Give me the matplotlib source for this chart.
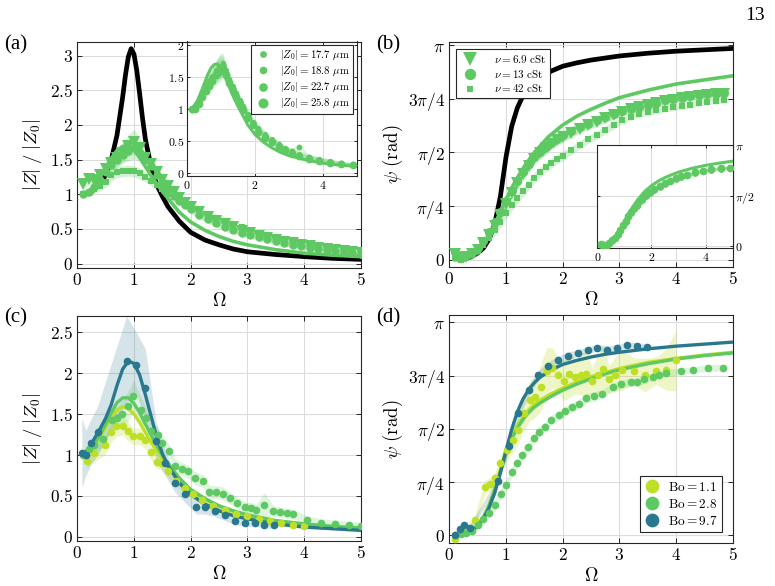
import matplotlib

matplotlib.use("Agg")
import matplotlib.pyplot as plt
import numpy as np

plt.rcParams["mathtext.fontset"] = "cm"
plt.rcParams["font.family"] = "serif"
plt.rcParams["font.serif"] = ["DejaVu Serif"]

YELLOW = "#bddf26"
GREEN = "#5ec962"
TEAL = "#2a788e"
AXC = "#262626"

# ---------------- panel (a): |Z|/|Z0|, three viscosities ----------------
OMEGA_A = [0.1, 0.2, 0.3, 0.4, 0.5, 0.6, 0.7, 0.8, 0.9, 1.0,
           1.1, 1.2, 1.3, 1.4, 1.5, 1.6, 1.7, 1.8, 1.9, 2.0,
           2.15, 2.3, 2.45, 2.6, 2.75, 2.9, 3.05, 3.2, 3.35, 3.5,
           3.65, 3.8, 3.95, 4.1, 4.25, 4.4, 4.55, 4.7, 4.85, 5.0]
A_TRI = [1.15, 1.22, 1.2, 1.27, 1.36, 1.45, 1.52, 1.6, 1.7, 1.76,
         1.66, 1.52, 1.43, 1.32, 1.21, 1.12, 1.03, 0.95, 0.88, 0.82,
         0.74, 0.67, 0.62, 0.57, 0.52, 0.47, 0.44, 0.4, 0.37, 0.34,
         0.31, 0.29, 0.27, 0.25, 0.23, 0.21, 0.19, 0.18, 0.16, 0.15]
A_TRI_ERR = [0.08, 0.08, 0.08, 0.09, 0.1, 0.11, 0.12, 0.14, 0.16, 0.18,
             0.15, 0.12, 0.1, 0.09, 0.08, 0.08, 0.08, 0.07, 0.07, 0.07,
             0.07, 0.07, 0.07, 0.06, 0.06, 0.06, 0.06, 0.06, 0.05, 0.05,
             0.05, 0.05, 0.05, 0.05, 0.04, 0.04, 0.04, 0.04, 0.04, 0.04]
A_CIR = [1.0, 1.03, 1.1, 1.2, 1.32, 1.42, 1.5, 1.56, 1.62, 1.66,
         1.6, 1.5, 1.4, 1.28, 1.17, 1.07, 0.98, 0.9, 0.84, 0.78,
         0.7, 0.64, 0.58, 0.53, 0.48, 0.44, 0.41, 0.38, 0.35, 0.32,
         0.29, 0.27, 0.25, 0.23, 0.21, 0.19, 0.18, 0.17, 0.15, 0.14]
A_CIR_ERR = [0.05, 0.06, 0.07, 0.08, 0.1, 0.1, 0.12, 0.12, 0.14, 0.15,
             0.12, 0.1, 0.09, 0.08, 0.08, 0.07, 0.07, 0.07, 0.06, 0.06,
             0.06, 0.06, 0.06, 0.06, 0.05, 0.05, 0.05, 0.05, 0.05, 0.05,
             0.04, 0.04, 0.04, 0.04, 0.04, 0.04, 0.04, 0.03, 0.03, 0.03]
A_SQR = [1.0, 1.02, 1.07, 1.12, 1.18, 1.27, 1.32, 1.33, 1.34, 1.33,
         1.3, 1.25, 1.19, 1.13, 1.07, 1.01, 0.96, 0.91, 0.86, 0.82,
         0.76, 0.71, 0.66, 0.62, 0.57, 0.52, 0.48, 0.44, 0.4, 0.37,
         0.34, 0.31, 0.29, 0.26, 0.24, 0.22, 0.2, 0.18, 0.17, 0.15]
A_SQR_ERR = [0.04, 0.05, 0.06, 0.07, 0.08, 0.08, 0.08, 0.08, 0.08, 0.08,
             0.08, 0.07, 0.07, 0.06, 0.06, 0.06, 0.06, 0.05, 0.05, 0.05,
             0.05, 0.05, 0.05, 0.05, 0.05, 0.04, 0.04, 0.04, 0.04, 0.04,
             0.04, 0.04, 0.03, 0.03, 0.03, 0.03, 0.03, 0.03, 0.03, 0.03]

A_BLACK_OMEGA = [0.1, 0.2, 0.3, 0.4, 0.5, 0.6, 0.7, 0.8, 0.85, 0.9,
                 0.95, 1.0, 1.05, 1.1, 1.15, 1.2, 1.3, 1.4, 1.5, 1.6,
                 1.8, 2.0, 2.25, 2.5, 2.75, 3.0, 3.5, 4.0, 4.5, 5.0]
A_BLACK = [1.0, 1.02, 1.07, 1.15, 1.28, 1.5, 1.85, 2.4, 2.72, 2.98,
           3.1, 3.02, 2.78, 2.45, 2.1, 1.8, 1.4, 1.14, 0.97, 0.82,
           0.61, 0.45, 0.34, 0.27, 0.21, 0.17, 0.13, 0.1, 0.075, 0.06]
A_LINE_OMEGA = [0.1, 0.2, 0.3, 0.4, 0.5, 0.6, 0.7, 0.8, 0.9, 1.0,
                1.1, 1.2, 1.3, 1.4, 1.5, 1.6, 1.8, 2.0, 2.25, 2.5,
                2.75, 3.0, 3.5, 4.0, 4.5, 5.0]
A_LINE = [1.0, 1.04, 1.12, 1.24, 1.38, 1.52, 1.63, 1.69, 1.7, 1.64,
          1.53, 1.4, 1.27, 1.15, 1.04, 0.94, 0.74, 0.6, 0.48, 0.39,
          0.32, 0.27, 0.2, 0.15, 0.12, 0.1]

# inset (a): four amplitudes |Z0|
INSET_OMEGA = [0.15, 0.25, 0.35, 0.45, 0.55, 0.65, 0.75, 0.85, 0.95, 1.05,
               1.15, 1.25, 1.35, 1.45, 1.55, 1.65, 1.8, 1.95, 2.1, 2.3,
               2.5, 2.7, 2.9, 3.1, 3.3, 3.6, 3.9, 4.2, 4.55, 4.9]
IA_Z1 = [1.0, 1.02, 1.1, 1.22, 1.33, 1.45, 1.5, 1.6, 1.66, 1.72,
         1.6, 1.47, 1.35, 1.25, 1.14, 1.05, 0.92, 0.8, 0.7, 0.6,
         0.52, 0.45, 0.38, 0.33, 0.29, 0.25, 0.21, 0.18, 0.15, 0.13]
IA_Z2 = [0.98, 1.0, 1.08, 1.2, 1.3, 1.38, 1.48, 1.58, 1.65, 1.68,
         1.56, 1.45, 1.33, 1.22, 1.12, 1.02, 0.9, 0.78, 0.68, 0.58,
         0.5, 0.44, 0.37, 0.34, 0.4, 0.24, 0.2, 0.17, 0.15, 0.13]
IA_Z3 = [1.0, 1.03, 1.12, 1.25, 1.35, 1.42, 1.5, 1.55, 1.62, 1.66,
         1.55, 1.42, 1.3, 1.2, 1.1, 1.0, 0.88, 0.77, 0.66, 0.57,
         0.49, 0.42, 0.36, 0.31, 0.27, 0.23, 0.2, 0.17, 0.14, 0.12]
IA_Z4 = [1.0, 1.0, 1.08, 1.18, 1.28, 1.36, 1.44, 1.52, 1.58, 1.62,
         1.52, 1.4, 1.28, 1.18, 1.08, 0.98, 0.86, 0.75, 0.64, 0.55,
         0.48, 0.41, 0.35, 0.3, 0.26, 0.22, 0.19, 0.16, 0.14, 0.12]
IA_ERR = [0.04, 0.05, 0.06, 0.08, 0.1, 0.12, 0.14, 0.16, 0.18, 0.16,
          0.12, 0.1, 0.09, 0.08, 0.08, 0.07, 0.07, 0.06, 0.06, 0.06,
          0.05, 0.05, 0.05, 0.05, 0.05, 0.04, 0.04, 0.04, 0.03, 0.03]
AMPLITUDES = ["17.7", "18.8", "22.7", "25.8"]

# ---------------- panel (b): phase psi, three viscosities ----------------
OMEGA_B = [0.1, 0.2, 0.3, 0.4, 0.5, 0.6, 0.7, 0.8, 0.9, 1.0,
           1.1, 1.2, 1.3, 1.4, 1.5, 1.6, 1.7, 1.8, 1.9, 2.0,
           2.15, 2.3, 2.45, 2.6, 2.75, 2.9, 3.05, 3.2, 3.35, 3.5,
           3.65, 3.8, 3.95, 4.1, 4.25, 4.4, 4.55, 4.7, 4.85]
B_TRI = [0.08, 0.03, 0.04, 0.08, 0.15, 0.24, 0.36, 0.5, 0.66, 0.82,
         0.98, 1.12, 1.25, 1.37, 1.48, 1.56, 1.63, 1.69, 1.75, 1.8,
         1.86, 1.92, 1.97, 2.02, 2.07, 2.12, 2.16, 2.2, 2.23, 2.26,
         2.29, 2.32, 2.34, 2.36, 2.38, 2.4, 2.41, 2.42, 2.43]
B_CIR = [0.12, 0.05, 0.05, 0.1, 0.17, 0.27, 0.4, 0.55, 0.7, 0.86,
         1.01, 1.15, 1.28, 1.4, 1.5, 1.58, 1.65, 1.71, 1.77, 1.82,
         1.88, 1.94, 1.99, 2.04, 2.09, 2.13, 2.17, 2.21, 2.24, 2.27,
         2.3, 2.33, 2.35, 2.37, 2.39, 2.41, 2.42, 2.43, 2.44]
B_ERR = [0.04, 0.04, 0.04, 0.05, 0.06, 0.07, 0.08, 0.09, 0.1, 0.1,
         0.1, 0.1, 0.1, 0.1, 0.09, 0.09, 0.09, 0.08, 0.08, 0.08,
         0.08, 0.07, 0.07, 0.07, 0.07, 0.07, 0.06, 0.06, 0.06, 0.06,
         0.06, 0.06, 0.06, 0.05, 0.05, 0.05, 0.05, 0.05, 0.05]
B_SQR = [0.02, 0.0, 0.03, 0.07, 0.13, 0.22, 0.32, 0.43, 0.56, 0.68,
         0.8, 0.9, 1.0, 1.1, 1.2, 1.28, 1.35, 1.41, 1.47, 1.52,
         1.6, 1.68, 1.76, 1.82, 1.9, 1.97, 2.04, 2.09, 2.13, 2.16,
         2.19, 2.21, 2.23, 2.25, 2.27, 2.29, 2.31, 2.32, 2.33]
B_SQR_ERR = [0.03, 0.03, 0.03, 0.04, 0.05, 0.06, 0.07, 0.08, 0.08, 0.08,
             0.08, 0.08, 0.08, 0.08, 0.08, 0.07, 0.07, 0.07, 0.07, 0.07,
             0.06, 0.06, 0.06, 0.06, 0.06, 0.06, 0.05, 0.05, 0.05, 0.05,
             0.05, 0.05, 0.05, 0.05, 0.05, 0.04, 0.04, 0.04, 0.04]
B_BLACK_OMEGA = [0.2, 0.3, 0.4, 0.5, 0.6, 0.7, 0.8, 0.9, 1.0, 1.1,
                 1.2, 1.3, 1.4, 1.5, 1.6, 1.8, 2.0, 2.25, 2.5, 3.0,
                 3.5, 4.0, 4.5, 5.0]
B_BLACK = [0.0, 0.02, 0.05, 0.1, 0.17, 0.3, 0.52, 0.92, 1.5, 1.95,
           2.22, 2.4, 2.52, 2.6, 2.67, 2.76, 2.83, 2.88, 2.92, 2.98,
           3.02, 3.05, 3.07, 3.09]
B_LINE_OMEGA = [0.1, 0.2, 0.3, 0.4, 0.5, 0.6, 0.7, 0.8, 0.9, 1.0,
                1.1, 1.2, 1.35, 1.5, 1.75, 2.0, 2.25, 2.5, 2.75, 3.0,
                3.5, 4.0, 4.5, 5.0]
B_LINE = [0.0, 0.0, 0.02, 0.06, 0.12, 0.22, 0.36, 0.52, 0.7, 0.88,
          1.05, 1.2, 1.4, 1.57, 1.8, 1.97, 2.1, 2.2, 2.29, 2.37,
          2.48, 2.57, 2.63, 2.69]
IB_LINE = [0.0, 0.0, 0.02, 0.05, 0.1, 0.18, 0.3, 0.44, 0.6, 0.76,
           0.92, 1.07, 1.27, 1.45, 1.7, 1.88, 2.02, 2.13, 2.22, 2.3,
           2.42, 2.51, 2.58, 2.64]
IB_P1 = [0.05, 0.02, 0.04, 0.1, 0.17, 0.26, 0.37, 0.5, 0.64, 0.78,
         0.92, 1.05, 1.17, 1.28, 1.38, 1.46, 1.57, 1.67, 1.76, 1.86,
         1.95, 2.03, 2.1, 2.16, 2.21, 2.28, 2.33, 2.38, 2.42, 2.45]
IB_P2 = [0.03, 0.02, 0.05, 0.11, 0.18, 0.28, 0.4, 0.53, 0.67, 0.8,
         0.94, 1.07, 1.19, 1.3, 1.4, 1.48, 1.59, 1.69, 1.78, 1.88,
         1.96, 2.04, 2.11, 2.17, 2.22, 2.29, 2.34, 2.38, 2.41, 2.43]
IB_P3 = [0.04, 0.01, 0.03, 0.09, 0.16, 0.25, 0.36, 0.48, 0.62, 0.76,
         0.9, 1.03, 1.15, 1.26, 1.36, 1.45, 1.56, 1.66, 1.75, 1.85,
         1.94, 2.02, 2.09, 2.15, 2.2, 2.27, 2.32, 2.37, 2.41, 2.43]
IB_P4 = [0.06, 0.03, 0.05, 0.1, 0.18, 0.27, 0.38, 0.51, 0.65, 0.79,
         0.93, 1.06, 1.18, 1.29, 1.39, 1.47, 1.58, 1.68, 1.77, 1.87,
         1.96, 2.04, 2.11, 2.17, 2.22, 2.29, 2.34, 2.39, 2.42, 2.44]
IB_ERR = [0.03, 0.03, 0.03, 0.04, 0.05, 0.06, 0.07, 0.08, 0.08, 0.08,
          0.08, 0.08, 0.08, 0.07, 0.07, 0.07, 0.07, 0.07, 0.06, 0.06,
          0.06, 0.06, 0.06, 0.06, 0.05, 0.05, 0.05, 0.05, 0.05, 0.05]
VISCOSITIES = ["6.9", "13", "42"]

# ---------------- panel (c): |Z|/|Z0|, three Bond numbers ----------------
C_LINE_OMEGA = [0.1, 0.2, 0.3, 0.4, 0.5, 0.6, 0.7, 0.8, 0.9, 1.0,
                1.1, 1.2, 1.3, 1.4, 1.5, 1.6, 1.8, 2.0, 2.25, 2.5,
                2.75, 3.0, 3.5, 4.0, 4.5, 5.0]
C_TEAL_LINE = [1.0, 1.08, 1.2, 1.32, 1.45, 1.62, 1.85, 2.05, 2.15, 2.12,
               1.98, 1.74, 1.48, 1.22, 1.02, 0.87, 0.66, 0.52, 0.4, 0.32,
               0.26, 0.22, 0.16, 0.12, 0.1, 0.08]
C_GREEN_LINE = [1.0, 1.05, 1.13, 1.25, 1.38, 1.52, 1.64, 1.7, 1.7, 1.63,
                1.52, 1.38, 1.25, 1.12, 1.0, 0.9, 0.72, 0.58, 0.47, 0.38,
                0.32, 0.27, 0.2, 0.16, 0.13, 0.11]
C_YELLOW_LINE = [1.0, 1.04, 1.11, 1.22, 1.34, 1.46, 1.55, 1.59, 1.57, 1.5,
                 1.4, 1.28, 1.16, 1.05, 0.95, 0.86, 0.7, 0.57, 0.46, 0.38,
                 0.31, 0.26, 0.19, 0.15, 0.12, 0.1]
C_TEAL_OMEGA = [0.08, 0.15, 0.25, 0.36, 0.87, 1.04, 1.2, 1.39, 1.55, 1.72,
                1.9, 2.1, 2.25, 2.43, 2.6, 2.78, 2.96, 3.14, 3.3, 3.47]
C_TEAL = [1.03, 1.0, 1.15, 1.28, 2.15, 2.1, 1.82, 1.17, 0.9, 0.66,
          0.53, 0.37, 0.37, 0.32, 0.27, 0.2, 0.17, 0.17, 0.15, 0.14]
C_TEAL_LO = [0.6, 0.75, 0.9, 1.0, 1.65, 1.75, 1.45, 0.95, 0.75, 0.55,
             0.42, 0.28, 0.28, 0.25, 0.2, 0.15, 0.13, 0.13, 0.11, 0.1]
C_TEAL_HI = [1.45, 1.3, 1.45, 1.6, 2.7, 2.5, 2.3, 1.4, 1.05, 0.8,
             0.65, 0.48, 0.46, 0.4, 0.34, 0.26, 0.22, 0.21, 0.19, 0.18]
C_GREEN_OMEGA = [0.1, 0.2, 0.3, 0.45, 0.61, 0.7, 0.78, 0.9, 0.99, 1.12,
                 1.22, 1.3, 1.42, 1.5, 1.62, 1.73, 1.84, 1.95, 2.07, 2.22,
                 2.33, 2.45, 2.57, 2.7, 2.82, 2.95, 3.06, 3.16, 3.3, 3.45,
                 3.58, 3.7, 3.8, 4.05, 4.3, 4.55, 4.8, 5.0]
C_GREEN = [1.0, 1.08, 1.12, 1.2, 1.43, 1.45, 1.5, 1.6, 1.72, 1.55,
           1.45, 1.3, 1.25, 1.15, 1.05, 0.87, 0.83, 0.8, 0.72, 0.68,
           0.55, 0.55, 0.53, 0.47, 0.42, 0.36, 0.35, 0.33, 0.39, 0.32,
           0.3, 0.29, 0.28, 0.21, 0.17, 0.16, 0.14, 0.13]
C_GREEN_ERR = [0.05, 0.06, 0.08, 0.1, 0.12, 0.14, 0.16, 0.18, 0.2, 0.16,
               0.12, 0.1, 0.09, 0.08, 0.08, 0.08, 0.08, 0.08, 0.08, 0.08,
               0.08, 0.08, 0.08, 0.07, 0.07, 0.07, 0.07, 0.07, 0.15, 0.07,
               0.06, 0.06, 0.06, 0.05, 0.05, 0.05, 0.05, 0.05]
C_YELLOW_OMEGA = [0.17, 0.3, 0.49, 0.6, 0.69, 0.81, 0.89, 0.98, 1.1, 1.2,
                  1.3, 1.4, 1.47, 1.6, 1.75, 1.9, 2.05, 2.2, 2.4, 2.6,
                  2.8, 3.0, 3.2, 3.4, 3.6, 3.8, 4.0]
C_YELLOW = [0.93, 1.02, 1.12, 1.28, 1.35, 1.36, 1.3, 1.23, 1.23, 1.18,
            1.04, 0.92, 0.9, 0.8, 0.68, 0.6, 0.52, 0.45, 0.38, 0.33,
            0.28, 0.25, 0.22, 0.19, 0.17, 0.15, 0.13]
C_YELLOW_ERR = [0.08, 0.1, 0.12, 0.12, 0.12, 0.12, 0.12, 0.1, 0.1, 0.1,
                0.1, 0.09, 0.08, 0.07, 0.07, 0.06, 0.06, 0.05, 0.05, 0.05,
                0.04, 0.04, 0.04, 0.04, 0.04, 0.03, 0.03]

# ---------------- panel (d): phase psi, three Bond numbers ----------------
D_LINE_OMEGA = [0.1, 0.2, 0.3, 0.4, 0.5, 0.6, 0.7, 0.8, 0.9, 1.0,
                1.1, 1.2, 1.3, 1.4, 1.5, 1.6, 1.8, 2.0, 2.25, 2.5,
                2.75, 3.0, 3.5, 4.0, 4.5, 5.0]
D_TEAL_LINE = [0.0, 0.02, 0.04, 0.07, 0.13, 0.24, 0.4, 0.62, 0.92, 1.25,
               1.56, 1.82, 2.01, 2.15, 2.25, 2.33, 2.44, 2.52, 2.58, 2.63,
               2.67, 2.7, 2.75, 2.79, 2.82, 2.85]
D_GREEN_LINE = [0.0, 0.01, 0.03, 0.07, 0.14, 0.26, 0.43, 0.66, 0.93, 1.2,
                1.42, 1.58, 1.71, 1.81, 1.89, 1.95, 2.05, 2.14, 2.23, 2.31,
                2.38, 2.44, 2.53, 2.6, 2.65, 2.69]
D_YELLOW_LINE = [0.0, 0.01, 0.03, 0.07, 0.14, 0.27, 0.45, 0.69, 0.97, 1.24,
                 1.46, 1.62, 1.75, 1.85, 1.93, 1.99, 2.09, 2.17, 2.26, 2.34,
                 2.4, 2.46, 2.55, 2.61, 2.66, 2.7]
D_TEAL_OMEGA = [0.1, 0.19, 0.26, 0.36, 0.86, 1.05, 1.22, 1.4, 1.57, 1.75,
                1.91, 2.09, 2.27, 2.44, 2.61, 2.79, 2.96, 3.14, 3.31, 3.48]
D_TEAL = [0.0, 0.09, 0.15, 0.1, 0.8, 1.32, 1.8, 2.14, 2.36, 2.5,
          2.58, 2.64, 2.69, 2.73, 2.77, 2.74, 2.77, 2.8, 2.79, 2.78]
D_TEAL_ERR = [0.04, 0.05, 0.05, 0.05, 0.06, 0.08, 0.08, 0.08, 0.07, 0.06,
              0.06, 0.06, 0.05, 0.05, 0.05, 0.05, 0.05, 0.05, 0.05, 0.05]
D_GREEN_OMEGA = [0.1, 0.2, 0.3, 0.4, 0.5, 0.6, 0.7, 0.8, 0.91, 1.0,
                 1.1, 1.2, 1.29, 1.39, 1.5, 1.58, 1.69, 1.79, 1.94, 2.05,
                 2.17, 2.29, 2.41, 2.56, 2.7, 2.88, 3.03, 3.2, 3.32, 3.44,
                 3.59, 3.7, 3.82, 4.08, 4.3, 4.56, 4.83]
D_GREEN = [0.0, 0.02, 0.03, 0.07, 0.15, 0.24, 0.33, 0.45, 0.61, 0.74,
           0.93, 1.06, 1.18, 1.3, 1.43, 1.52, 1.6, 1.7, 1.77, 1.84,
           1.89, 1.94, 2.02, 2.05, 2.09, 2.19, 2.23, 2.26, 2.26, 2.3,
           2.33, 2.37, 2.39, 2.42, 2.44, 2.47, 2.47]
D_GREEN_ERR = [0.03, 0.03, 0.04, 0.05, 0.06, 0.07, 0.08, 0.08, 0.08, 0.08,
               0.08, 0.08, 0.08, 0.08, 0.08, 0.08, 0.07, 0.07, 0.07, 0.07,
               0.07, 0.07, 0.07, 0.07, 0.06, 0.06, 0.06, 0.06, 0.06, 0.06,
               0.05, 0.05, 0.05, 0.05, 0.05, 0.05, 0.05]
D_YELLOW_OMEGA = [0.1, 0.18, 0.3, 0.45, 0.63, 0.72, 0.81, 0.9, 1.02, 1.12,
                  1.22, 1.32, 1.42, 1.52, 1.62, 1.72, 1.82, 1.92, 2.02, 2.12,
                  2.22, 2.32, 2.42, 2.52, 2.62, 2.72, 2.82, 2.92, 3.05, 3.25,
                  3.45, 3.65, 3.82, 4.0]
D_YELLOW = [-0.05, 0.04, 0.08, 0.22, 0.71, 0.75, 0.84, 1.06, 1.26, 1.4,
            1.55, 1.8, 1.99, 2.04, 2.19, 2.42, 2.47, 2.36, 2.28, 2.38,
            2.34, 2.37, 2.38, 2.27, 2.36, 2.45, 2.3, 2.37, 2.44, 2.42,
            2.36, 2.43, 2.44, 2.58]
D_YELLOW_ERR = [0.04, 0.05, 0.06, 0.08, 0.1, 0.1, 0.1, 0.12, 0.15, 0.18,
                0.2, 0.25, 0.3, 0.3, 0.35, 0.35, 0.3, 0.25, 0.3, 0.35,
                0.25, 0.3, 0.35, 0.2, 0.3, 0.35, 0.2, 0.25, 0.3, 0.2,
                0.25, 0.2, 0.3, 0.45]
BOND = ["1.1", "2.8", "9.7"]

PI_TICKS = [0, np.pi / 4, np.pi / 2, 3 * np.pi / 4, np.pi]
PI_LABELS = [r"$0$", r"$\pi/4$", r"$\pi/2$", r"$3\pi/4$", r"$\pi$"]

TICK_FS = 12.5
LABEL_FS = 13.5


def num(v):
    return r"$%s$" % (f"{v:g}")


def style(ax, xticks, yticks, ylabels=None, fs=TICK_FS):
    ax.set_xticks(xticks)
    ax.set_xticklabels([num(t) for t in xticks], fontsize=fs)
    ax.set_yticks(yticks)
    ax.set_yticklabels(ylabels if ylabels else [num(t) for t in yticks], fontsize=fs)
    ax.tick_params(direction="in", top=True, right=True, length=3.5, width=0.7,
                   color=AXC, pad=3)
    ax.grid(True, color="#dcdcdc", lw=0.8)
    ax.set_axisbelow(True)
    for s in ax.spines.values():
        s.set_color(AXC)
        s.set_linewidth(0.8)


def band(ax, x, y, err, color, alpha=0.25):
    y = np.asarray(y)
    err = np.asarray(err)
    ax.fill_between(x, y - err, y + err, color=color, alpha=alpha, lw=0)


fig = plt.figure(figsize=(7.75, 5.86), dpi=100)
W, H = 775.0, 586.0


def box(l, t, r, b):
    return [l / W, 1 - b / H, (r - l) / W, (b - t) / H]


ax_a = fig.add_axes(box(77.3, 41.7, 360.7, 267.7))
ax_b = fig.add_axes(box(449.3, 42.3, 732.7, 266.7))
ax_c = fig.add_axes(box(77.3, 316, 360.7, 541))
ax_d = fig.add_axes(box(449.3, 315, 732.7, 542.7))

# ---- (a)
band(ax_a, OMEGA_A, A_SQR, A_SQR_ERR, GREEN)
band(ax_a, OMEGA_A, A_CIR, A_CIR_ERR, GREEN)
band(ax_a, OMEGA_A, A_TRI, A_TRI_ERR, GREEN)
ax_a.plot(A_BLACK_OMEGA, A_BLACK, color="black", lw=3.4, zorder=3)
ax_a.plot(A_LINE_OMEGA, A_LINE, color=GREEN, lw=2.6, zorder=4)
ax_a.plot(OMEGA_A, A_SQR, "s", color=GREEN, ms=4, mew=0, zorder=5)
ax_a.plot(OMEGA_A, A_CIR, "o", color=GREEN, ms=6, mew=0, zorder=5)
ax_a.plot(OMEGA_A, A_TRI, "v", color=GREEN, ms=8, mew=0, zorder=5)
ax_a.set_xlim(0, 5)
ax_a.set_ylim(-0.06, 3.2)
style(ax_a, [0, 1, 2, 3, 4, 5], [0, 0.5, 1, 1.5, 2, 2.5, 3])
ax_a.set_xlabel(r"$\Omega$", fontsize=LABEL_FS, labelpad=2)
ax_a.set_ylabel(r"$|Z|\;/\;|Z_0|$", fontsize=LABEL_FS, labelpad=4)

ia = fig.add_axes(box(187, 41.5, 356.7, 176))
ia.set_facecolor("white")
ia_sizes = [5, 5.6, 6.4, 7.4]
for vals in [IA_Z1, IA_Z2, IA_Z3, IA_Z4]:
    band(ia, INSET_OMEGA, vals, IA_ERR, GREEN, alpha=0.2)
ia.plot(A_LINE_OMEGA, A_LINE, color=GREEN, lw=2.2, zorder=4)
for vals, s, amp in zip([IA_Z1, IA_Z2, IA_Z3, IA_Z4], ia_sizes, AMPLITUDES):
    ia.plot(INSET_OMEGA, vals, "o", color=GREEN, ms=s * 0.75, mew=0, zorder=5,
            label=r"$|Z_0| = %s\ \mu\mathrm{m}$" % amp)
ia.set_xlim(0, 5)
ia.set_ylim(-0.05, 2.05)
style(ia, [0, 2, 4], [0, 0.5, 1, 1.5, 2], fs=8.5)
ia.tick_params(length=2.5, pad=2)
leg = ia.legend(loc="upper right", fontsize=7.8, frameon=True, fancybox=False,
                edgecolor=AXC, framealpha=1, borderpad=0.3, labelspacing=0.2,
                handletextpad=0.8, handlelength=1.6, markerscale=1.3,
                borderaxespad=0.3)
leg.get_frame().set_linewidth(0.8)

# ---- (b)
band(ax_b, OMEGA_B, B_SQR, B_SQR_ERR, GREEN)
band(ax_b, OMEGA_B, B_CIR, B_ERR, GREEN)
band(ax_b, OMEGA_B, B_TRI, B_ERR, GREEN)
ax_b.plot(B_BLACK_OMEGA, B_BLACK, color="black", lw=3.4, zorder=3)
ax_b.plot(B_LINE_OMEGA, B_LINE, color=GREEN, lw=2.6, zorder=4)
mk_b = [("v", 8, B_TRI), ("o", 6.5, B_CIR), ("s", 4, B_SQR)]
for (m, s, vals), nu in zip(mk_b, VISCOSITIES):
    ax_b.plot(OMEGA_B, vals, m, color=GREEN, ms=s, mew=0, zorder=5,
              label=r"$\nu = %s\ \mathrm{cSt}$" % nu)
ax_b.set_xlim(0, 5)
ax_b.set_ylim(-0.1, 3.18)
style(ax_b, [0, 1, 2, 3, 4, 5], PI_TICKS, PI_LABELS)
ax_b.set_xlabel(r"$\Omega$", fontsize=LABEL_FS, labelpad=2)
ax_b.set_ylabel(r"$\psi\ \mathrm{(rad)}$", fontsize=LABEL_FS, labelpad=2)
leg = ax_b.legend(loc="upper left", fontsize=8, frameon=True, fancybox=False,
                  edgecolor=AXC, framealpha=1, borderpad=0.35, labelspacing=0.25,
                  handletextpad=1.3, handlelength=1.8, markerscale=1.25,
                  borderaxespad=0.6)
leg.get_frame().set_linewidth(0.8)

ib = fig.add_axes(box(597.3, 145, 732.7, 248.5))
ib.set_facecolor("white")
for vals in [IB_P1, IB_P2, IB_P3, IB_P4]:
    band(ib, INSET_OMEGA, vals, IB_ERR, GREEN, alpha=0.2)
ib.plot(B_LINE_OMEGA, IB_LINE, color=GREEN, lw=2.2, zorder=4)
for vals, s in zip([IB_P1, IB_P2, IB_P3, IB_P4], ia_sizes):
    ib.plot(INSET_OMEGA, vals, "o", color=GREEN, ms=s * 0.75, mew=0, zorder=5)
ib.set_xlim(0, 5)
ib.set_ylim(-0.07, np.pi)
style(ib, [0, 2, 4], [0, np.pi / 2, np.pi], [r"$0$", r"$\pi/2$", r"$\pi$"], fs=8.5)
ib.tick_params(length=2.5, pad=2, labelleft=False, labelright=True)

# ---- (c)
band(ax_c, C_YELLOW_OMEGA, C_YELLOW, C_YELLOW_ERR, YELLOW)
band(ax_c, C_GREEN_OMEGA, C_GREEN, C_GREEN_ERR, GREEN, alpha=0.2)
ax_c.fill_between(C_TEAL_OMEGA, C_TEAL_LO, C_TEAL_HI, color=TEAL, alpha=0.2, lw=0)
for vals, c in zip([C_YELLOW_LINE, C_GREEN_LINE, C_TEAL_LINE], [YELLOW, GREEN, TEAL]):
    ax_c.plot(C_LINE_OMEGA, vals, color=c, lw=2.4, zorder=4)
ax_c.plot(C_YELLOW_OMEGA, C_YELLOW, "o", color=YELLOW, ms=5.5, mew=0, zorder=5)
ax_c.plot(C_GREEN_OMEGA, C_GREEN, "o", color=GREEN, ms=5.5, mew=0, zorder=5)
ax_c.plot(C_TEAL_OMEGA, C_TEAL, "o", color=TEAL, ms=5.5, mew=0, zorder=5)
ax_c.set_xlim(0, 5)
ax_c.set_ylim(-0.05, 2.7)
style(ax_c, [0, 1, 2, 3, 4, 5], [0, 0.5, 1, 1.5, 2, 2.5])
ax_c.set_xlabel(r"$\Omega$", fontsize=LABEL_FS, labelpad=2)
ax_c.set_ylabel(r"$|Z|\;/\;|Z_0|$", fontsize=LABEL_FS, labelpad=4)

# ---- (d)
band(ax_d, D_YELLOW_OMEGA, D_YELLOW, D_YELLOW_ERR, YELLOW)
band(ax_d, D_GREEN_OMEGA, D_GREEN, D_GREEN_ERR, GREEN, alpha=0.2)
band(ax_d, D_TEAL_OMEGA, D_TEAL, D_TEAL_ERR, TEAL, alpha=0.2)
for vals, c in zip([D_YELLOW_LINE, D_GREEN_LINE, D_TEAL_LINE], [YELLOW, GREEN, TEAL]):
    ax_d.plot(D_LINE_OMEGA, vals, color=c, lw=2.4, zorder=4)
for (om, vals, c), bo in zip([(D_YELLOW_OMEGA, D_YELLOW, YELLOW),
                              (D_GREEN_OMEGA, D_GREEN, GREEN),
                              (D_TEAL_OMEGA, D_TEAL, TEAL)], BOND):
    ax_d.plot(om, vals, "o", color=c, ms=5.5, mew=0, zorder=5,
              label=r"$\mathrm{Bo} = %s$" % bo)
ax_d.set_xlim(0, 5)
ax_d.set_ylim(-0.11, 3.25)
style(ax_d, [0, 1, 2, 3, 4, 5], PI_TICKS, PI_LABELS)
ax_d.set_xlabel(r"$\Omega$", fontsize=LABEL_FS, labelpad=2)
ax_d.set_ylabel(r"$\psi\ \mathrm{(rad)}$", fontsize=LABEL_FS, labelpad=2)
leg = ax_d.legend(loc="lower right", fontsize=9.5, frameon=True, fancybox=False,
                  edgecolor=AXC, framealpha=1, borderpad=0.35, labelspacing=0.3,
                  handletextpad=0.6, handlelength=1.2, markerscale=1.8,
                  borderaxespad=0.8)
leg.get_frame().set_linewidth(0.8)

# panel letters and page number
for lab, x, y in [("(a)", 4, 45), ("(b)", 376, 45), ("(c)", 4, 318), ("(d)", 376, 318)]:
    fig.text(x / W, 1 - y / H, lab, fontsize=15, family="Liberation Serif", va="center")
fig.text(745 / W, 1 - 15 / H, "13", fontsize=14, family="Liberation Serif", va="center")

fig.savefig("out.png", dpi=100)
